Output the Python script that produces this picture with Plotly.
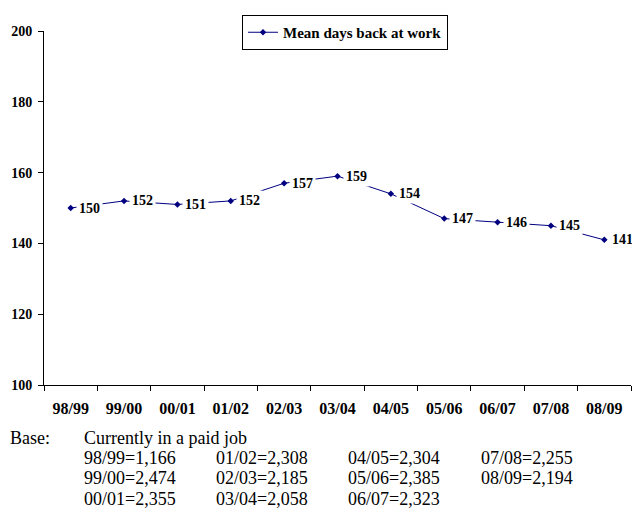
import plotly.graph_objects as go

years = ["98/99", "99/00", "00/01", "01/02", "02/03", "03/04", "04/05", "05/06", "06/07", "07/08", "08/09"]
mean_days = [150, 152, 151, 152, 157, 159, 154, 147, 146, 145, 141]
base_counts = ["1,166", "2,474", "2,355", "2,308", "2,185", "2,058", "2,304", "2,385", "2,323", "2,255", "2,194"]
y_ticks = [100, 120, 140, 160, 180, 200]

W, H = 632, 510
ML, MR, MT, MB = 44, 1, 31, 125
PW = W - ML - MR
PH = H - MT - MB

def px_to_paper_x(px):
    return (px - ML) / PW

def py_to_paper_y(py):
    return (H - MB - py) / PH

fig = go.Figure()
fig.add_trace(go.Scatter(
    x=years, y=mean_days,
    mode="lines+markers",
    name="Mean days back at work",
    line=dict(color="#000080", width=1),
    marker=dict(symbol="diamond", size=5, color="#000080"),
    cliponaxis=False,
))

label_font = dict(family="Liberation Serif", size=14, color="black", weight="bold")
annotations = []
for yr, v in zip(years, mean_days):
    annotations.append(dict(text=str(v), x=yr, y=v, xref="x", yref="y",
                            xanchor="left", yanchor="middle", xshift=5,
                            showarrow=False, font=label_font,
                            bgcolor="white", borderpad=2))

font_base = dict(family="Liberation Serif", size=18, color="black")
annotations.append(dict(text="Base:", x=px_to_paper_x(8), y=py_to_paper_y(438), xref="paper", yref="paper",
                        xanchor="left", yanchor="middle", showarrow=False, font=font_base))
annotations.append(dict(text="Currently in a paid job", x=px_to_paper_x(82), y=py_to_paper_y(438), xref="paper", yref="paper",
                        xanchor="left", yanchor="middle", showarrow=False, font=font_base))
col_x = [82, 214, 346, 479]
row_y = [458, 478, 499]
for i, (yr, n) in enumerate(zip(years, base_counts)):
    c, r = divmod(i, 3)
    annotations.append(dict(text=f"{yr}={n}", x=px_to_paper_x(col_x[c]), y=py_to_paper_y(row_y[r]),
                            xref="paper", yref="paper", xanchor="left", yanchor="middle",
                            showarrow=False, font=font_base))

fig.update_layout(
    width=W, height=H,
    margin=dict(l=ML, r=MR, t=MT, b=MB),
    paper_bgcolor="white", plot_bgcolor="white",
    showlegend=True,
    legend=dict(x=px_to_paper_x(242), y=py_to_paper_y(15), xanchor="left", yanchor="top",
                bordercolor="black", borderwidth=1, bgcolor="white",
                font=dict(family="Liberation Serif", size=15, color="black", weight="bold"),
                itemwidth=30, tracegroupgap=0),
    annotations=annotations,
    xaxis=dict(type="category", range=[-0.5, 10.5], tickson="boundaries",
               showline=True, linecolor="black", linewidth=1,
               ticks="outside", ticklen=5, tickcolor="black", showgrid=False,
               ticklabelstandoff=9,
               tickfont=dict(family="Liberation Serif", size=16, color="black", weight="bold")),
    yaxis=dict(range=[100, 200], tickvals=y_ticks,
               showline=True, linecolor="black", linewidth=1,
               ticks="outside", ticklen=5, tickcolor="black", showgrid=False, zeroline=False,
               ticklabelstandoff=3,
               tickfont=dict(family="Liberation Serif", size=14, color="black", weight="bold")),
)

fig.write_html("out.html",
               config={"displayModeBar": False},
               post_script="document.body.style.margin='0';document.body.style.overflow='hidden';document.documentElement.style.overflow='hidden';")
